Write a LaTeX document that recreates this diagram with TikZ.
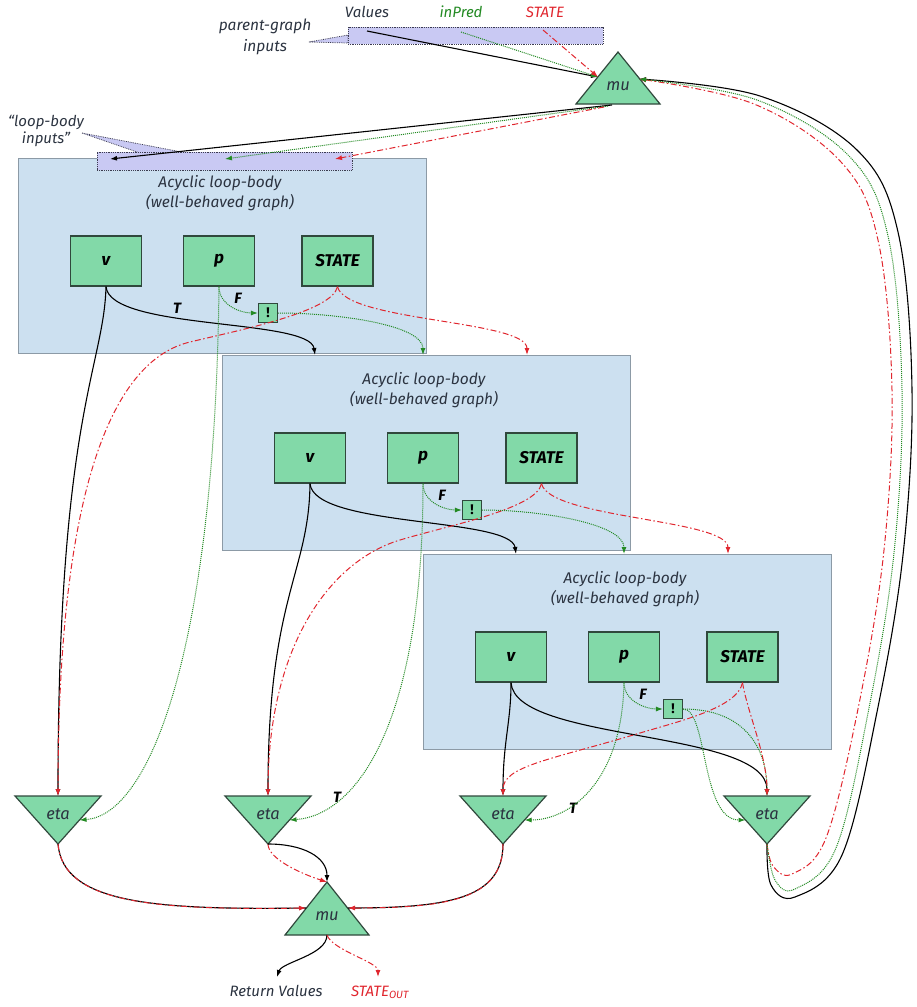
\documentclass[tikz,border=0pt]{standalone}
\usepackage{fontspec}
\setmainfont{Fira Sans}
\usetikzlibrary{arrows.meta}
\definecolor{boxfill}{HTML}{CCE0F0}
\definecolor{boxdraw}{HTML}{8C9AA6}
\definecolor{nodefill}{HTML}{82D9A8}
\definecolor{nodedraw}{HTML}{30483C}
\definecolor{barfill}{HTML}{C9C9F3}
\definecolor{bardraw}{HTML}{3C3C50}
\definecolor{gline}{HTML}{238A23}
\definecolor{rline}{HTML}{E0262E}
\definecolor{txt}{HTML}{2B3340}
\begin{document}
\begin{tikzpicture}[x=1pt,y=-1pt,
  every node/.style={font=\itshape\fontsize{15}{17}\selectfont, text=txt},
  bodybox/.style={draw=boxdraw, fill=boxfill, line width=1pt, minimum width=408pt, minimum height=195pt, inner sep=0pt},
  inbox/.style={draw=nodedraw, fill=nodefill, line width=1.3pt, minimum width=71pt, minimum height=50pt, inner sep=0pt, font=\bfseries\itshape\fontsize{17}{19}\selectfont, text=black},
  bangbox/.style={draw=nodedraw, fill=nodefill, line width=1.1pt, minimum size=19pt, inner sep=0pt, font=\bfseries\fontsize{14}{16}\selectfont, text=black},
  tri/.style={draw=nodedraw, fill=nodefill, line width=1.2pt, line join=miter},
  trilbl/.style={font=\itshape\fontsize{16.5}{18}\selectfont, text=txt},
  bar/.style={draw=bardraw, fill=barfill, densely dotted, line width=0.8pt},
  vline/.style={draw=black, line width=1.1pt},
  pline/.style={draw=gline, line width=1pt, densely dotted},
  sline/.style={draw=rline, line width=1pt, dash pattern=on 6pt off 2.5pt on 1.5pt off 2.5pt},
  arr/.style={-{Latex[length=7pt,width=5pt]}},
  lbl/.style={font=\bfseries\itshape\fontsize{15}{17}\selectfont, text=black},
  title/.style={align=center, font=\itshape\fontsize{15.5}{20}\selectfont}
]
\useasboundingbox (0,0) rectangle (916,1007);

% ---------- loop bodies ----------
\foreach \i/\ox/\oy in {1/18/158,2/222/355,3/423/554}{
  \node[bodybox] (B\i) at (\ox+204,\oy+97.5) {};
  \node[title] (T\i) at (\ox+202,\oy+35) {Acyclic loop-body\\(well-behaved graph)};
  \node[inbox] (v\i) at (\ox+88,\oy+103) {v};
  \node[inbox] (p\i) at (\ox+201,\oy+103) {p};
  \node[inbox] (S\i) at (\ox+319.5,\oy+103) {STATE};
  \node[bangbox] (x\i) at (\ox+250,\oy+155) {!};
  \node[lbl] (F\i) at (\ox+220,\oy+140) {F};
  \coordinate (Tv\i) at (\ox+93,\oy);
  \coordinate (Tp\i) at (\ox+201,\oy);
  \coordinate (Ts\i) at (\ox+305,\oy);
  \draw[pline,arr] (p\i.south) .. controls +(0,18) and +(-18,0) .. (x\i.west);
}
\node[lbl] (Tl1) at (177,308) {T};

% ---------- input bars and callouts ----------
\path[bar] (309,42) -- (348,35) -- (348,43) -- cycle;
\node[bar, minimum width=255pt, minimum height=17pt, inner sep=0pt] (pbar) at (475.5,35.5) {};
\path[bar] (82,133) -- (187,153) -- (140,153) -- cycle;
\node[bar, minimum width=255pt, minimum height=18pt, inner sep=0pt] (lbar) at (224.5,161) {};

\node[align=center, font=\itshape\fontsize{15.5}{21}\selectfont] (pgi) at (265,37) {parent-graph\\inputs};
\node[align=center, font=\itshape\fontsize{15}{17}\selectfont] (lbi) at (46,131) {“loop-body\\inputs”};
\node (lv) at (367,12) {Values};
\node[text=gline] (lp) at (461,12) {inPred};
\node[text=rline] (ls) at (545,12) {STATE};

\coordinate (pv) at (367,31);
\coordinate (pp) at (461,32);
\coordinate (ps) at (543,30);
\coordinate (lbv) at (110,159);
\coordinate (lbp) at (225,159);
\coordinate (lbs) at (335,159);

% ---------- top mu ----------
\path[tri] (618,52) -- (660,104) -- (576,104) -- cycle;
\node[trilbl] (mu1) at (618,86) {mu};
\coordinate (mu1l) at (598,77);
\coordinate (mu1r) at (639,79);
\coordinate (mu1b) at (612,105);
\coordinate (mu1bg) at (608,106);
\coordinate (mu1bs) at (604,107);

% ---------- etas ----------
\foreach \n/\c in {1/58,2/268,3/503,4/767}{
  \path[tri] (\c-43,796) -- (\c+43,796) -- (\c,844) -- cycle;
  \node[trilbl] (eta\n) at (\c,814) {eta};
  \coordinate (eta\n t) at (\c,796);
  \coordinate (eta\n b) at (\c,844);
  \coordinate (eta\n r) at (\c+21.5,820);
  \coordinate (eta\n l) at (\c-21.5,820);
}
\node[lbl] (Tl2) at (337,797) {T};
\node[lbl] (Tl3) at (573,808) {T};

% ---------- bottom mu ----------
\path[tri] (327,882) -- (369,935) -- (285,935) -- cycle;
\node[trilbl] (mu2) at (327,916) {mu};
\coordinate (mu2t) at (327,882);
\coordinate (mu2l) at (306,908);
\coordinate (mu2r) at (348,908);
\coordinate (mu2b) at (327,935);
\coordinate (rv) at (277,977);
\coordinate (rs) at (378,977);
\node (RV) at (276,991) {Return Values};
\node[text=rline] (RS) at (380,992) {STATE\textsubscript{OUT}};

% ---------- parent inputs -> mu ----------
\draw[vline,arr] (pv) -- (mu1l);
\draw[pline,arr] (pp) -- (mu1l);
\draw[sline,arr] (ps) -- (mu1l);

% ---------- mu -> loop-body inputs ----------
\draw[vline,arr] (mu1b) -- (lbv);
\draw[pline,arr] (mu1bg) -- (lbp);
\draw[sline,arr] (mu1bs) -- (lbs);

% ---------- v connectors ----------
\draw[vline,arr] (v1.south) .. controls +(4,44) and +(-5,-37) .. (Tv2);
\draw[vline,arr] (v2.south) .. controls +(4,44) and +(-5,-37) .. (Tv3);
\draw[vline,arr] (v3.south) .. controls +(4,60) and +(0,-67) .. (eta4t);
\draw[vline,arr] (v1.south) .. controls +(-2,80) and +(0,-380) .. (eta1t);
\draw[vline,arr] (v2.south) .. controls +(-1,90) and +(0,-200) .. (eta2t);
\draw[vline,arr] (v3.south) .. controls +(0,40) and +(0,-55) .. (eta3t);

% ---------- p connectors ----------
\draw[pline,arr] (x1.east) .. controls +(60,0) and +(0,-30) .. (Tp2);
\draw[pline,arr] (x2.east) .. controls +(60,0) and +(0,-30) .. (Tp3);
\draw[pline,arr] (x3.east) .. controls +(60,0) and +(0,-50) .. (eta4t);
\draw[pline,arr] (x3.east) .. controls +(25,0) and +(-45,0) .. (eta4l);
\draw[pline,arr] (p1.south) .. controls +(-4,364) and +(70,-5) .. (eta1r);
\draw[pline,arr] (p2.south) .. controls +(0,238) and +(68,-5) .. (eta2r);
\draw[pline,arr] (p3.south) .. controls +(-2,100) and +(45,0) .. (eta3r);

% ---------- STATE connectors ----------
\coordinate (r1m) at (190,342);
\coordinate (r2m) at (400,540);
\coordinate (r3m) at (640,733);
\draw[sline,arr] (S1.south) .. controls +(8,35) and +(0,-35) .. (Ts2);
\draw[sline,arr] (S2.south) .. controls +(8,35) and +(0,-35) .. (Ts3);
\draw[sline,arr] (S3.south) .. controls +(5,30) and +(0,-40) .. (eta4t);
\draw[sline,arr] (S1.south) .. controls +(-5,25) and +(50,-12) .. (r1m) .. controls +(-80,19) and +(0,-300) .. (eta1t);
\draw[sline,arr] (S2.south) .. controls +(-5,25) and +(50,-15) .. (r2m) .. controls +(-70,21) and +(0,-150) .. (eta2t);
\draw[sline,arr] (S3.south) .. controls +(-5,25) and +(40,-12) .. (r3m) .. controls +(-90,27) and +(0,-30) .. (eta3t);

% ---------- etas -> bottom mu ----------
\draw[vline] (eta1b) .. controls +(5,60) and +(-150,2) .. (mu2l);
\draw[sline,arr] (eta1b) .. controls +(5,60) and +(-150,2) .. (mu2l);
\draw[vline] (eta3b) .. controls +(0,55) and +(100,0) .. (mu2r);
\draw[sline,arr] (eta3b) .. controls +(0,55) and +(100,0) .. (mu2r);
\draw[sline,arr] (eta2b) .. controls +(0,15) and +(-25,-8) .. (mu2t);
\draw[vline,arr] (eta2b) .. controls +(35,0) and +(0,-25) .. (mu2t);

% ---------- bottom mu outputs ----------
\draw[vline,arr] (mu2b) .. controls +(0,20) and +(5,-15) .. (rv);
\draw[sline,arr] (mu2b) .. controls +(5,15) and +(0,-15) .. (rs);

% ---------- loop back eta4 -> top mu ----------
\draw[vline,arr] plot[smooth, tension=0.6] coordinates {(eta4b) (771,885) (795,897) (842,855) (877,712) (903,555) (912,390) (898,232) (857,150) (760,96) (mu1r)};
\draw[sline,arr] plot[smooth, tension=0.6] coordinates {(eta4b) (773,866) (792,874) (826,838) (859,704) (884,550) (892,390) (878,240) (841,162) (754,104) (mu1r)};
\draw[pline,arr] plot[smooth, tension=0.6] coordinates {(eta4b) (775,880) (795,889) (836,848) (869,708) (894,553) (902,390) (888,236) (849,156) (757,100) (mu1r)};
\end{tikzpicture}
\end{document}
